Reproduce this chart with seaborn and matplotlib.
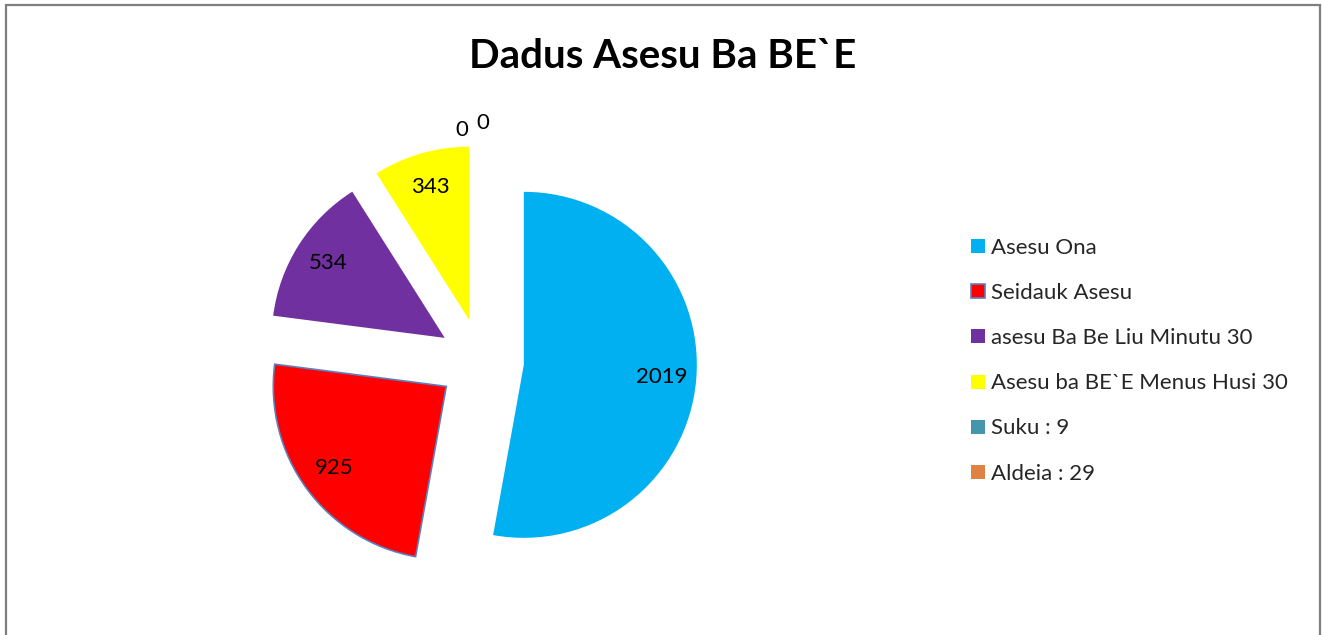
import math
import matplotlib
matplotlib.use("Agg")
import matplotlib.pyplot as plt
from matplotlib.patches import Rectangle
from matplotlib.lines import Line2D
import seaborn as sns

categories = ["Asesu Ona", "Seidauk Asesu", "asesu Ba Be Liu Minutu 30",
              "Asesu ba BE`E Menus Husi 30", "Suku : 9", "Aldeia : 29"]
values = [2019, 925, 534, 343, 0, 0]
colors = ["#00B0F0", "#FF0000", "#7030A0", "#FFFF00", "#4396AC", "#DE8344"]
title = "Dadus Asesu Ba BE`E"

sns.set_theme(style="white")
plt.rcParams["font.family"] = ["Lato", "DejaVu Sans"]

W, H = 1323, 635
fig = plt.figure(figsize=(W / 100, H / 100), dpi=100)
fig.patch.set_facecolor("white")
ax = fig.add_axes([0, 0, 1, 1])

R = 173
cx, cy = 481, H - 361
wedges, texts, autotexts = ax.pie(
    values, colors=colors, startangle=90, counterclock=False,
    radius=R, center=(cx, cy), explode=[43] * len(values),
    autopct=lambda p: "", pctdistance=0.8,
    wedgeprops=dict(linewidth=0), frame=False)
ax.set_xlim(0, W)
ax.set_ylim(0, H)
ax.set_aspect("equal")
ax.axis("off")

# red wedge outline like reference
wedges[1].set_edgecolor("#5B7FBF")
wedges[1].set_linewidth(1.2)

# data labels
zero_offsets = [(-14, -2), (1, 3.5)]
zi = 0
for w, t, v in zip(wedges, autotexts, values):
    if v > 0:
        t.set_text(str(v))
        t.set_fontsize(16)
        t.set_color("black")
    else:
        th = math.radians((w.theta1 + w.theta2) / 2)
        x = w.center[0] + R * 1.1 * math.cos(th)
        y = w.center[1] + R * 1.1 * math.sin(th)
        dx, dy = zero_offsets[zi]
        zi += 1
        ax.annotate(str(v), (x, y), xytext=(dx, dy), textcoords="offset points",
                    ha="center", va="center", fontsize=16, color="black")

# title
fig.text(663 / W, 1 - 57 / H, title, ha="center", va="center",
         fontsize=29, fontweight="bold", color="black")

# legend
handles = []
for i, (c, lab) in enumerate(zip(colors, categories)):
    ec = "#5B7FBF" if i == 1 else c
    handles.append(Line2D([0], [0], marker="s", linestyle="none", markersize=10.5,
                          markerfacecolor=c, markeredgecolor=ec,
                          markeredgewidth=1.2 if i == 1 else 0))
leg = fig.legend(handles, categories, loc="upper left",
                 bbox_to_anchor=(970 / W, 1 - 238 / H), frameon=False,
                 fontsize=16, labelspacing=1.13, handlelength=0.7,
                 handletextpad=0.25, borderaxespad=0, borderpad=0)

# chart border
fig.patches.append(Rectangle((5.5 / W, -0.1), (1319.5 - 5.5) / W, 1.1 - 5.5 / H,
                             transform=fig.transFigure, fill=False,
                             edgecolor="#7F7F7F", linewidth=1.6))

fig.savefig("out.png", dpi=100)
